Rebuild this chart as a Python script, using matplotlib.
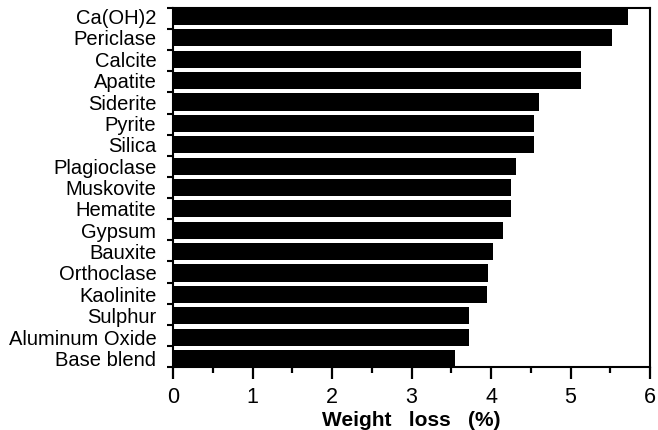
import numpy as np
import matplotlib
matplotlib.use("Agg")
import matplotlib.pyplot as plt

# Data (top to bottom as shown)
minerals = ["Ca(OH)2", "Periclase", "Calcite", "Apatite", "Siderite", "Pyrite",
            "Silica", "Plagioclase", "Muskovite", "Hematite", "Gypsum", "Bauxite",
            "Orthoclase", "Kaolinite", "Sulphur", "Aluminum Oxide", "Base blend"]
weight_loss = [5.72, 5.52, 5.13, 5.13, 4.61, 4.54, 4.54, 4.31, 4.25, 4.25,
               4.15, 4.02, 3.96, 3.95, 3.72, 3.72, 3.55]

plt.rcParams['font.family'] = ['Liberation Sans', 'DejaVu Sans']

fig = plt.figure(figsize=(6.58, 4.30), dpi=100)
ax = fig.add_axes([173 / 658, 1 - 367 / 430, 477 / 658, 359 / 430])

n = len(minerals)
ypos = np.arange(n)[::-1]
bar_h = 0.8
ax.barh(ypos, weight_loss, height=bar_h, color='black', edgecolor='none')

ax.set_xlim(0, 6)
ax.set_ylim(-bar_h / 2, n - 1 + bar_h / 2)

# x axis
ax.set_xticks(np.arange(0, 7, 1))
ax.set_xticks(np.arange(0.5, 6, 1), minor=True)
ax.tick_params(axis='x', which='major', direction='out', length=8.5, width=1.6,
               labelsize=15.5, pad=6)
ax.tick_params(axis='x', which='minor', direction='out', length=4.5, width=1.6)
ax.set_xlabel("Weight   loss   (%)", fontsize=15, fontweight='bold', labelpad=2)

# y axis: labels at bar centres, small ticks between bars
ax.set_yticks(ypos)
ax.set_yticklabels(minerals)
y0, y1 = ax.get_ylim()
ax.set_yticks(np.linspace(y0, y1, n + 1), minor=True)
ax.tick_params(axis='y', which='major', length=0, labelsize=14.5, pad=12)
ax.tick_params(axis='y', which='minor', direction='out', length=4, width=1.5)

for s in ax.spines.values():
    s.set_linewidth(1.5)

fig.savefig("out.png", dpi=100)
